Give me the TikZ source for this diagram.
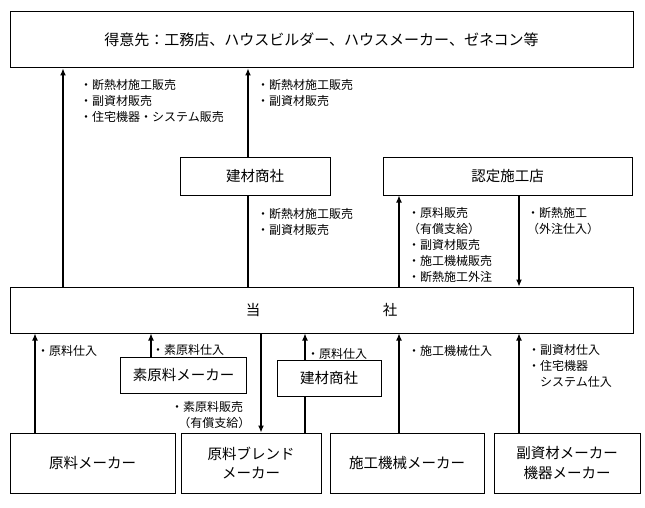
\documentclass[tikz,border=0pt]{standalone}
\usepackage{fontspec}
\setmainfont{Noto Sans CJK JP}
\usetikzlibrary{arrows.meta}

\begin{document}
\begin{tikzpicture}[x=1pt, y=-1pt,
            boxNode/.style={draw, line width=1pt, inner sep=0pt, align=center, font=\fontsize{14.5}{20}\selectfont},
            tagNode/.style={anchor=west, inner sep=0pt, align=left, font=\fontsize{12}{16}\selectfont},
            flow/.style={line width=1.1pt, -{Latex[length=7pt, width=6pt]}},
            link/.style={line width=1.1pt}]

            \useasboundingbox (0,0) rectangle (645,508);

            \node [boxNode, minimum width=623pt, minimum height=56pt, font=\fontsize{15}{20}\selectfont] (customer) at (321.5,40) {得意先：工務店、ハウスビルダー、ハウスメーカー、ゼネコン等};
            \node [boxNode, minimum width=150pt, minimum height=38pt] (tradeUp) at (255,176) {建材商社};
            \node [boxNode, minimum width=249pt, minimum height=38pt] (installer) at (507.5,176) {認定施工店};
            \node [boxNode, minimum width=623pt, minimum height=46pt] (company) at (321.5,310) {当\hspace{122.5pt}社};
            \node [boxNode, minimum width=126pt, minimum height=36pt] (rawMaker) at (183.5,375) {素原料メーカー};
            \node [boxNode, minimum width=104pt, minimum height=36pt] (tradeDown) at (329,378) {建材商社};
            \node [boxNode, minimum width=165pt, minimum height=60pt] (maker1) at (92.5,463) {原料メーカー};
            \node [boxNode, minimum width=140pt, minimum height=60pt] (maker2) at (251,463) {原料ブレンド\\メーカー};
            \node [boxNode, minimum width=154pt, minimum height=60pt] (maker3) at (407,463) {施工機械メーカー};
            \node [boxNode, minimum width=146pt, minimum height=60pt] (maker4) at (567,463) {副資材メーカー\\機器メーカー};

            \coordinate (colA) at (63,0);
            \coordinate (colB) at (248,0);
            \coordinate (colC) at (399,0);
            \coordinate (colD) at (519,0);
            \coordinate (colE) at (35,0);
            \coordinate (colF) at (151,0);
            \coordinate (colG) at (261,0);
            \coordinate (colH) at (305,0);

            \draw[flow] (company.north -| colA) -- (customer.south -| colA);
            \draw[flow] (tradeUp.north -| colB) -- (customer.south -| colB);
            \draw[link] (company.north -| colB) -- (tradeUp.south -| colB);
            \draw[flow] (company.north -| colC) -- (installer.south -| colC);
            \draw[flow] (installer.south -| colD) -- (company.north -| colD);

            \draw[flow] (maker1.north -| colE) -- (company.south -| colE);
            \draw[flow] (rawMaker.north -| colF) -- (company.south -| colF);
            \draw[flow] (company.south -| colG) -- (maker2.north -| colG);
            \draw[link] (maker2.north -| colH) -- (tradeDown.south -| colH);
            \draw[flow] (tradeDown.north -| colH) -- (company.south -| colH);
            \draw[flow] (maker3.north -| colC) -- (company.south -| colC);
            \draw[flow] (maker4.north -| colD) -- (company.south -| colD);

            \node [tagNode] (tag1) at (80,101) {・断熱材施工販売\\・副資材販売\\・住宅機器・システム販売};
            \node [tagNode] (tag2) at (257,93) {・断熱材施工販売\\・副資材販売};
            \node [tagNode] (tag3) at (257,221.5) {・断熱材施工販売\\・副資材販売};
            \node [tagNode] (tag4) at (408,245) {・原料販売\\（有償支給）\\・副資材販売\\・施工機械販売\\・断熱施工外注};
            \node [tagNode] (tag5) at (527,221) {・断熱施工\\（外注仕入）};
            \node [tagNode] (tag6) at (37,351) {・原料仕入};
            \node [tagNode] (tag7) at (152,350) {・素原料仕入};
            \node [tagNode] (tag8) at (307,354) {・原料仕入};
            \node [tagNode] (tag9) at (408,351) {・施工機械仕入};
            \node [tagNode] (tag10) at (528,366) {・副資材仕入\\・住宅機器\\\hphantom{・}システム仕入};
            \node [tagNode] (tag11) at (171,415) {・素原料販売\\\hspace{0.6em}（有償支給）};
        \end{tikzpicture}
\end{document}
